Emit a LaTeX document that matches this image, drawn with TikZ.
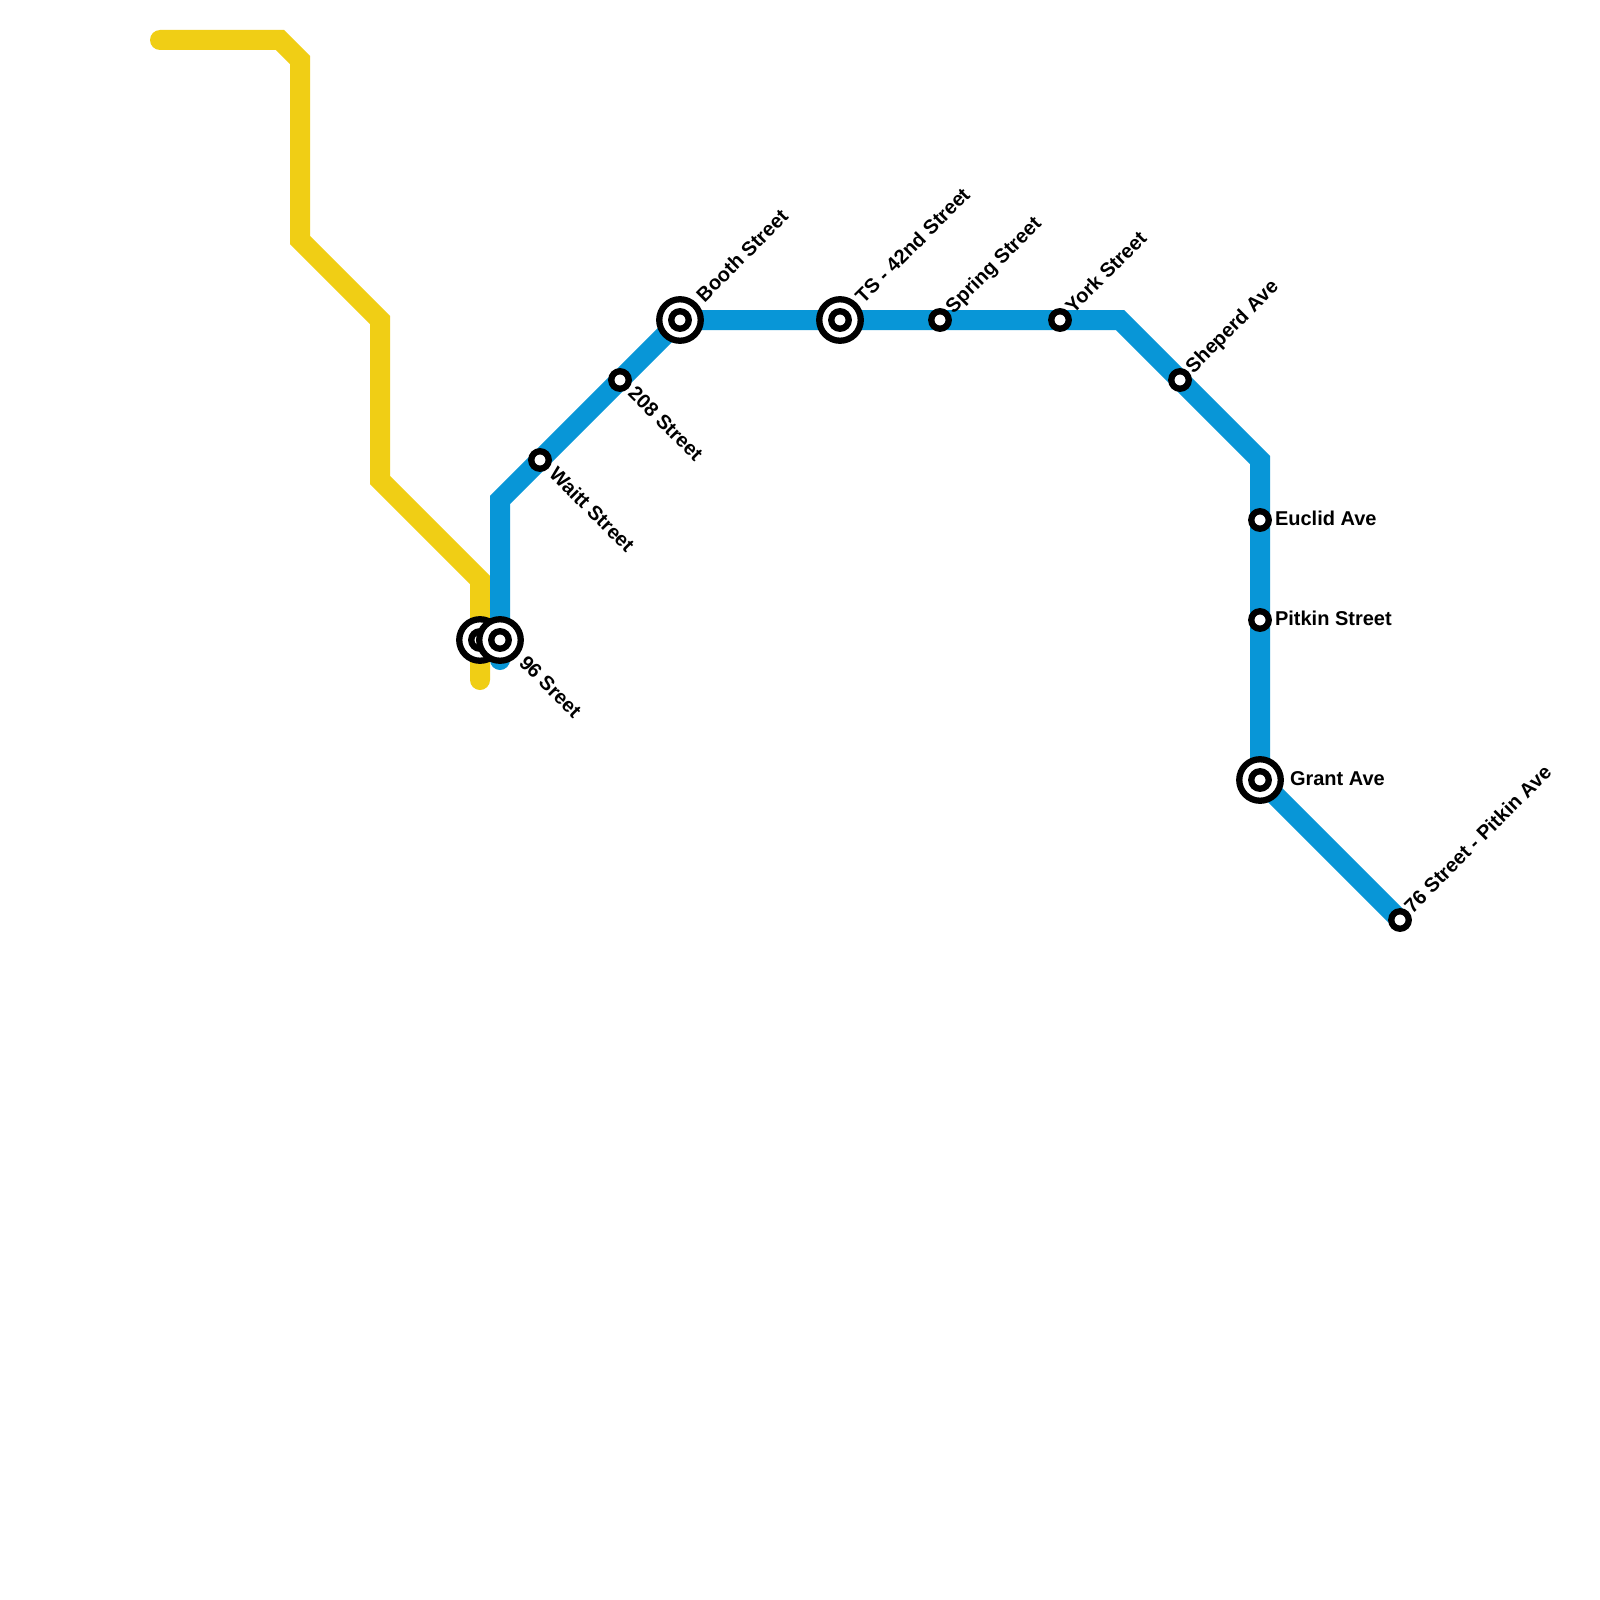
\documentclass[tikz,border=0pt]{standalone}
\usepackage{fontspec}
\setmainfont{Liberation Sans}[BoldFont={Liberation Sans Bold}]
\tikzset{
  route/.style={line width=20pt,line cap=round,line join=miter},
  yellowroute/.style={route,draw=lineyellow},
  blueroute/.style={route,draw=lineblue},
  ring/.style={circle,draw=black,fill=white,line width=6.3pt,inner sep=0pt,outer sep=0pt},
  smallstation/.style={ring,minimum size=17.5pt},
  bigstation/.style={ring,minimum size=41.5pt},
  lbl/.style={font=\bfseries\fontsize{20}{24}\selectfont,text=black,inner sep=0pt,outer sep=0pt},
  lblup/.style={lbl,anchor=base west,rotate=45},
  lbldown/.style={lbl,anchor=base west,rotate=-45},
  lblflat/.style={lbl,anchor=base west}
}
\definecolor{lineyellow}{HTML}{F0CE15}
\definecolor{lineblue}{HTML}{0896D7}
\begin{document}
\begin{tikzpicture}[x=1pt,y=-1pt]
\useasboundingbox (0,0) rectangle (1600,1600);
\fill[white] (0,0) rectangle (1600,1600);
% yellow route points
\coordinate (y0) at (160,40);
\coordinate (y1) at (280,40);
\coordinate (y2) at (300,60);
\coordinate (y3) at (300,240);
\coordinate (y4) at (380,320);
\coordinate (y5) at (380,480);
\coordinate (y6) at (480,580);
\coordinate (y7) at (480,680);
\coordinate (yst) at (480,640);
% blue route points
\coordinate (b0) at (500,660);
\coordinate (bst) at (500,640);
\coordinate (b1) at (500,500);
\coordinate (b2) at (680,320);
\coordinate (b3) at (1120,320);
\coordinate (b4) at (1260,460);
\coordinate (b5) at (1260,780);
\coordinate (b6) at (1400,920);
\draw[yellowroute] (y0) -- (y1) -- (y2) -- (y3) -- (y4) -- (y5) -- (y6) -- (y7);
\draw[blueroute] (b0) -- (b1) -- (b2) -- (b3) -- (b4) -- (b5) -- (b6);
% stations
\node[bigstation] (a1) at (yst) {};
\node[smallstation] (a2) at (yst) {};
\node[bigstation] (s96) at (bst) {};
\node[smallstation] (s96i) at (bst) {};
\node[smallstation] (waitt) at (540,460) {};
\node[smallstation] (s208) at (620,380) {};
\node[bigstation] (booth) at (680,320) {};
\node[smallstation] (boothi) at (680,320) {};
\node[bigstation] (ts) at (840,320) {};
\node[smallstation] (tsi) at (840,320) {};
\node[smallstation] (spring) at (940,320) {};
\node[smallstation] (york) at (1060,320) {};
\node[smallstation] (sheperd) at (1180,380) {};
\node[smallstation] (euclid) at (1260,520) {};
\node[smallstation] (pitkin) at (1260,620) {};
\node[bigstation] (grant) at (1260,780) {};
\node[smallstation] (granti) at (1260,780) {};
\node[smallstation] (s76) at (1400,920) {};
% labels
\node[lbldown] (l96) at (518,664) {96 Sreet};
\node[lbldown] (lwaitt) at (548,475.5) {Waitt Street};
\node[lbldown] (l208) at (627,394.5) {208 Street};
\node[lblup] (lbooth) at (704.5,303) {Booth Street};
\node[lblup] (lts) at (863.5,304) {TS - 42nd Street};
\node[lblup] (lspring) at (953.5,314) {Spring Street};
\node[lblup] (lyork) at (1073.5,314) {York Street};
\node[lblup] (lsheperd) at (1193.5,374) {Sheperd Ave};
\node[lblflat] (leuclid) at (1275,525) {Euclid Ave};
\node[lblflat] (lpitkin) at (1275,625) {Pitkin Street};
\node[lblflat] (lgrant) at (1290,785) {Grant Ave};
\node[lblup] (l76) at (1412.5,914) {76 Street - Pitkin Ave};
\end{tikzpicture}
\end{document}
